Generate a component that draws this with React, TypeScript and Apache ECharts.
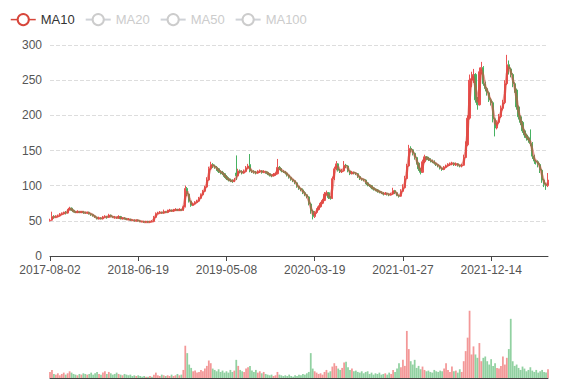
import React, { useEffect, useRef } from "react";
import * as echarts from "echarts";

// Axis label dates (every 45th candle is labelled; one candle ≈ one trading week)
const labelDates = ["2017-08-02", "2018-06-19", "2019-05-08", "2020-03-19", "2021-01-27", "2021-12-14"];
const CANDLES_PER_LABEL = 45;

// [open, close, low, high], one candle per ~5 trading sessions
const candles: number[][] = [
  [50,51,49,53],[51,56,50,63],[56,55,53,58],[55,56,54,58],[56,57,55,59],[57,59,56,61],[59,60,58,62],[60,62,59,63],[62,61,59,64],[61,66,60,67],
  [66,68,65,70],[68,65,64,69],[65,63,62,66],[63,62,61,64],[62,63,61,65],[63,62,61,64],[62,63,61,64],[63,62,60,64],[62,61,60,63],[61,62,60,63],
  [62,60,59,63],[60,59,57,61],[59,57,56,60],[57,55,54,58],[55,53,52,56],[53,54,52,56],[54,53,52,55],[53,55,52,57],[55,56,54,58],[56,55,53,57],
  [55,58,54,60],[58,56,55,59],[56,55,54,57],[55,55,53,57],[55,54,53,56],[54,56,53,58],[56,53,52,57],[53,54,52,55],[54,53,52,55],[53,52,51,54],
  [52,52,51,54],[52,51,50,53],[51,51,50,52],[51,50,49,52],[50,51,49,52],[51,50,49,52],[50,49,48,51],[49,49,48,50],[49,48,47,50],[48,49,47,50],
  [49,48,47,50],[48,49,47,50],[49,49,48,51],[49,55,48,57],[55,60,54,62],[60,61,59,63],[61,62,60,64],[62,61,60,63],[61,63,60,66],[63,62,61,64],
  [62,64,61,66],[64,65,63,67],[65,64,63,66],[64,65,63,67],[65,66,64,68],[66,65,64,67],[65,66,64,68],[66,65,64,67],[65,70,64,72],[70,96,69,100],
  [96,88,85,98],[88,78,76,89],[78,72,70,79],[72,74,71,76],[74,76,73,78],[76,78,75,80],[78,82,77,84],[82,87,81,89],[87,92,86,94],[92,98,91,100],
  [98,108,97,112],[108,124,107,127],[124,130,122,134],[130,128,125,132],[128,126,124,130],[126,124,121,128],[124,120,118,125],[120,119,116,122],[119,117,115,121],[117,113,111,118],
  [113,110,108,115],[110,108,106,112],[108,107,105,110],[107,106,104,109],[106,108,105,111],[118,114,108,143],[114,121,113,124],[121,120,118,123],[120,118,116,122],[118,120,117,123],
  [120,125,119,128],[125,128,124,131],[130,121,119,145],[121,120,118,123],[120,119,117,122],[119,118,116,121],[118,120,117,122],[120,121,118,123],[121,119,117,122],[119,120,118,122],
  [120,119,117,121],[119,117,115,120],[117,115,113,118],[115,114,112,116],[114,116,113,118],[116,117,114,119],[117,126,116,138],[126,124,122,128],[124,121,119,125],[121,120,118,122],
  [120,118,116,121],[118,115,113,119],[115,112,110,116],[112,109,107,113],[109,107,105,110],[107,104,102,108],[104,99,97,105],[99,96,94,100],[96,94,92,97],[94,90,88,96],
  [90,87,85,92],[87,84,82,88],[84,74,72,85],[74,64,60,76],[64,56,52,66],[56,62,54,64],[62,66,60,68],[66,70,65,72],[70,75,69,77],[75,79,74,81],
  [79,88,78,91],[88,90,86,93],[90,83,81,91],[83,82,80,85],[82,110,81,113],[110,124,108,127],[124,131,122,135],[131,122,120,132],[122,120,118,124],[120,121,118,124],
  [121,129,120,135],[129,128,125,131],[128,121,119,129],[121,117,115,122],[117,119,116,121],[119,118,116,120],[118,117,115,119],[117,113,111,118],[113,110,108,114],[110,109,107,111],
  [109,108,106,110],[108,104,102,109],[104,101,99,105],[101,100,98,102],[100,97,95,101],[97,95,93,98],[95,94,92,96],[94,92,90,95],[92,91,89,93],[91,90,88,92],
  [90,88,86,91],[88,89,87,91],[89,88,86,90],[88,87,85,89],[87,88,86,90],[88,93,87,97],[93,90,88,94],[90,86,85,91],[86,85,83,87],[85,92,84,95],
  [92,97,91,102],[97,110,96,114],[110,128,109,131],[128,153,127,158],[153,151,147,156],[151,146,143,152],[146,140,137,147],[140,132,130,141],[132,124,121,133],[124,119,116,125],
  [119,134,118,137],[134,141,132,144],[141,139,136,142],[139,137,135,141],[137,136,133,139],[136,134,132,137],[134,132,130,136],[132,130,128,133],[130,128,126,131],[128,125,123,129],
  [125,123,121,126],[123,126,122,128],[126,128,125,130],[128,130,127,132],[130,131,128,133],[131,132,129,134],[132,130,128,133],[130,131,128,133],[131,129,127,132],[129,128,126,130],
  [128,129,126,131],[129,140,128,144],[140,158,139,163],[158,196,156,200],[196,250,194,258],[250,252,240,262],[252,258,246,266],[258,222,218,260],[222,215,208,226],[215,262,214,268],
  [262,268,258,276],[268,245,242,270],[245,238,234,248],[238,232,228,240],[232,222,219,234],[222,218,214,225],[218,195,190,220],[195,182,170,197],[182,190,180,193],[190,198,188,202],
  [198,210,196,214],[210,218,207,222],[218,245,216,250],[245,272,243,286],[272,266,258,278],[266,258,254,268],[258,245,240,260],[245,236,232,247],[236,212,208,238],[212,198,194,214],
  [198,190,186,200],[190,178,175,192],[178,172,168,180],[172,168,164,174],[168,165,161,170],[165,160,156,180],[160,142,138,162],[142,135,131,144],[135,134,130,137],[134,130,126,136],
  [130,122,118,132],[122,108,104,124],[108,102,98,110],[102,100,94,104],[100,108,98,118],
];

// Volume per candle (relative units)
const volumes: number[] = [
  9,12,6,5,7,4,6,8,5,7,
  10,8,6,5,4,6,5,7,6,5,
  6,8,5,7,9,6,5,8,10,6,
  9,7,5,6,8,6,5,4,6,5,
  4,5,3,4,3,4,3,2,3,2,
  2,3,2,5,8,4,3,5,4,3,
  4,3,5,3,4,6,4,5,12,48,
  37,20,15,10,11,8,9,12,10,14,
  18,26,22,14,12,10,13,9,11,8,
  10,8,12,9,11,27,18,12,10,9,
  14,16,18,11,9,12,8,10,7,9,
  6,5,4,5,3,4,9,5,4,3,
  4,3,5,3,2,4,3,5,4,6,
  5,7,9,37,14,10,8,6,7,5,
  9,12,8,10,17,22,18,14,12,15,
  23,24,16,12,14,10,11,9,8,10,
  7,9,10,6,8,5,7,6,8,5,
  6,7,5,8,6,12,9,14,22,16,
  27,18,70,43,25,20,27,15,18,13,
  17,12,10,11,9,8,12,10,9,11,
  10,14,22,12,9,17,10,11,8,13,
  9,25,40,60,100,35,47,35,30,52,
  25,30,32,25,20,28,18,22,15,14,
  18,32,20,30,43,88,25,18,20,15,
  12,17,14,10,12,16,11,9,12,8,
  10,12,9,8,13,
];

// Moving-average names and their span in candles (one candle ≈ 5 sessions)
const maNames = ["MA10", "MA20", "MA50", "MA100"];
const maSpans = [2, 4, 10, 20];
const maColors = ["#d7463b", "#5470c6", "#91cc75", "#fac858"];

const UP = "#eb5454";
const DOWN = "#47b262";

function buildDates(n: number): string[] {
  const out: string[] = [];
  for (let i = 0; i < n; i++) {
    const b = Math.floor(i / CANDLES_PER_LABEL);
    const j = i % CANDLES_PER_LABEL;
    const d = new Date(labelDates[b] + "T00:00:00Z");
    d.setUTCDate(d.getUTCDate() + 7 * j);
    out.push(d.toISOString().slice(0, 10));
  }
  return out;
}

function calculateMA(span: number): (number | string)[] {
  const res: (number | string)[] = [];
  for (let i = 0; i < candles.length; i++) {
    if (i < span - 1) {
      res.push("-");
      continue;
    }
    let sum = 0;
    for (let k = 0; k < span; k++) sum += candles[i - k][1];
    res.push(+(sum / span).toFixed(2));
  }
  return res;
}

export default function App() {
  const ref = useRef<HTMLDivElement>(null);
  useEffect(() => {
    if (!ref.current) return;
    const chart = echarts.init(ref.current, null, { renderer: "svg" });
    const dates = buildDates(candles.length);
    const font = "Liberation Sans, Arial, sans-serif";
    chart.setOption({
      animation: false,
      textStyle: { fontFamily: font },
      legend: {
        data: maNames,
        left: 5,
        top: 8,
        itemGap: 10,
        inactiveColor: "#ccc",
        lineStyle: { width: 1.5, opacity: 1 },
        itemStyle: { borderWidth: 1.2 },
        textStyle: { fontSize: 13, color: "#333", fontFamily: font },
        selected: { MA10: true, MA20: false, MA50: false, MA100: false },
      },
      grid: [
        { left: 50, right: 29, top: 45, height: 211 },
        { left: 50, right: 29, top: 300, height: 78 },
      ],
      xAxis: [
        {
          type: "category",
          data: dates,
          boundaryGap: false,
          axisLine: { lineStyle: { color: "#444" } },
          axisTick: { lineStyle: { color: "#444" } },
          axisLabel: { interval: CANDLES_PER_LABEL - 1, color: "#555", fontSize: 12, fontFamily: font },
          splitLine: { show: false },
        },
        {
          type: "category",
          gridIndex: 1,
          data: dates,
          boundaryGap: false,
          axisLine: { lineStyle: { color: "#444" } },
          axisTick: { show: false },
          axisLabel: { show: false },
          splitLine: { show: false },
        },
      ],
      yAxis: [
        {
          type: "value",
          min: 0,
          max: 300,
          interval: 50,
          axisLine: { show: false },
          axisTick: { show: false },
          axisLabel: { color: "#555", fontSize: 12, fontFamily: font },
          splitLine: { lineStyle: { type: "dashed", color: "#ddd" } },
        },
        {
          type: "value",
          gridIndex: 1,
          min: 0,
          max: 116,
          axisLine: { show: false },
          axisTick: { show: false },
          axisLabel: { show: false },
          splitLine: { show: false },
        },
      ],
      series: [
        {
          name: "K",
          type: "candlestick",
          data: candles,
          barWidth: "90%",
          itemStyle: { color: UP, color0: DOWN, borderColor: UP, borderColor0: DOWN, borderWidth: 1 },
        },
        ...maNames.map((name, k) => ({
          name,
          type: "line",
          data: calculateMA(maSpans[k]),
          showSymbol: false,
          color: maColors[k],
          lineStyle: { width: 2.5, opacity: 0.55 },
        })),
        {
          name: "Volume",
          type: "bar",
          xAxisIndex: 1,
          yAxisIndex: 1,
          barWidth: "90%",
          data: volumes.map((v, i) => ({
            value: v,
            itemStyle: { color: candles[i][1] > candles[i][0] ? UP : DOWN, opacity: 0.6 },
          })),
        },
      ],
    });
    return () => chart.dispose();
  }, []);
  return <div ref={ref} style={{ position: "absolute", left: 0, top: 0, width: 577, height: 386 }} />;
}
